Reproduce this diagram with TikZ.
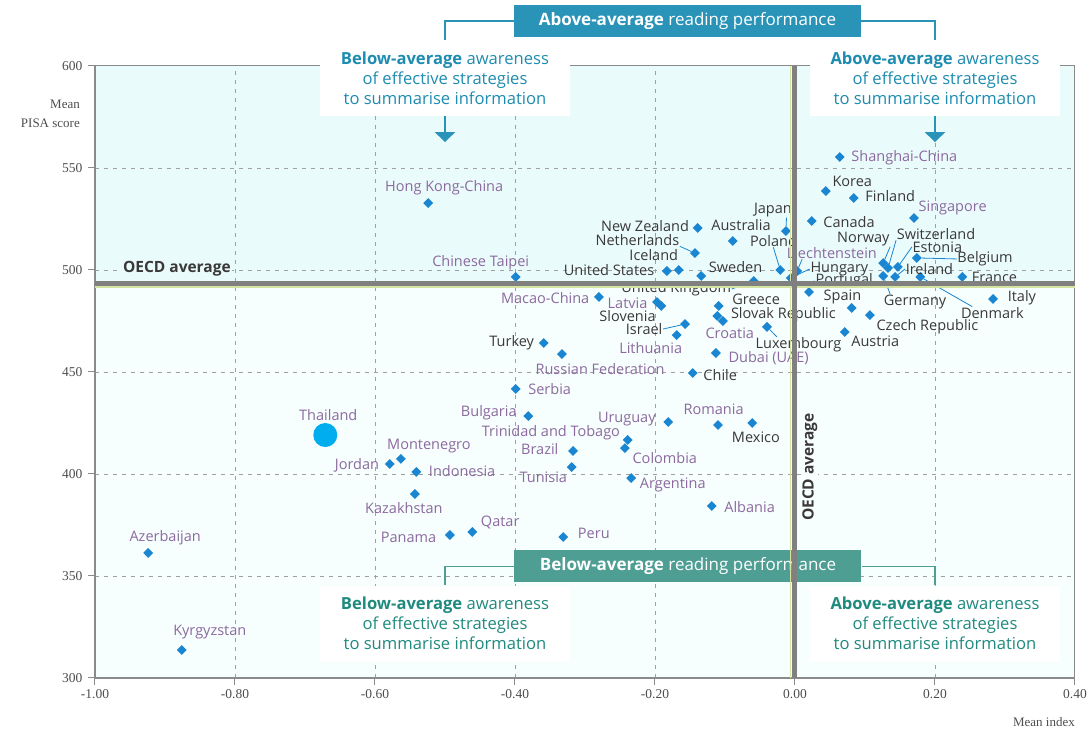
\documentclass[tikz,border=0pt]{standalone}
\usepackage{fontspec}
\setmainfont{Open Sans}
\newfontfamily\numfont{Liberation Serif}
\usetikzlibrary{shapes.geometric}
\usetikzlibrary{arrows.meta}

\definecolor{dotblue}{HTML}{1A85D0}
\definecolor{thaicyan}{HTML}{00AEEF}
\definecolor{oecdtxt}{HTML}{3B3838}
\definecolor{parttxt}{HTML}{8C6A9E}
\definecolor{topblue}{HTML}{2A94B8}
\definecolor{botgreen}{HTML}{4E9E94}
\definecolor{bluetxt}{HTML}{1E8CB0}
\definecolor{greentxt}{HTML}{1F8A7E}
\definecolor{bgtop}{HTML}{EAFBFC}
\definecolor{bgbot}{HTML}{F6FEFE}
\definecolor{gridgray}{HTML}{A0A0A0}
\definecolor{axisgray}{HTML}{8A8A8A}
\definecolor{avggray}{HTML}{808080}
\definecolor{avggreen}{HTML}{D5E3A0}
\definecolor{ticktxt}{HTML}{4D4D4D}

\begin{document}
\begin{tikzpicture}[x=700pt, y=2.04pt]
		\tikzset{dia/.style={diamond, fill=dotblue, inner sep=0pt, minimum size=10pt}}
		\tikzset{oecd/.style={text=oecdtxt, inner sep=0.5pt, font=\fontsize{14.5}{16}\selectfont}}
		\tikzset{part/.style={oecd, text=parttxt}}
		\tikzset{lead/.style={dotblue, line width=0.8pt}}
		\tikzset{grid/.style={gridgray, line width=0.8pt, dash pattern=on 4pt off 5pt}}
		\tikzset{qbox/.style={fill=white, align=center, minimum width=250pt, minimum height=76pt, inner sep=0pt, font=\fontsize{16.6}{20}\selectfont}}
		\tikzset{band/.style={text=white, minimum width=347pt, minimum height=32pt, inner sep=0pt, font=\fontsize{17}{18}\selectfont}}
		\tikzset{qarrow/.style={line width=2.5pt, -{Triangle[width=20pt, length=10pt]}}}
		\tikzset{avglabel/.style={text=oecdtxt, inner sep=1pt, font=\bfseries\fontsize{15.5}{17}\selectfont}}
		\useasboundingbox (-1.135714,273.039) rectangle (0.424286,632.353);
		%plot area
		\fill[bgtop] (-1,493.5) rectangle (0.4,600);
		\fill[bgbot] (-1,300) rectangle (0.4,493.5);
		\foreach \x in {-0.8,-0.6,-0.4,-0.2,0.2}
			\draw[grid] (\x,300) -- (\x,600);
		\foreach \y in {350,400,450,500,550}
			\draw[grid] (-1,\y) -- (0.4,\y);
		\draw[axisgray, line width=1pt] (-1,600) -- (0.4,600) -- (0.4,300);
		\draw[axisgray, line width=1.6pt] (-1,600) -- (-1,300) -- (0.4,300);
		%axes
		\foreach \y in {300,350,...,600}
			\draw[axisgray, line width=1pt] (-1,\y) -- ++(-7pt,0) node[left=5pt, text=ticktxt, inner sep=0pt, font=\numfont\fontsize{13.5}{15}\selectfont] {\y};
		\foreach \x/\t in {-1/-1.00, -0.8/-0.80, -0.6/-0.60, -0.4/-0.40, -0.2/-0.20, 0/0.00, 0.2/0.20, 0.4/0.40}
			\draw[axisgray, line width=1pt] (\x,300) -- ++(0,-7pt) node[below=4pt, text=ticktxt, inner sep=0pt, font=\numfont\fontsize{13.5}{15}\selectfont] {\t};
		\node[anchor=east, align=right, text=ticktxt, inner sep=0pt, font=\numfont\fontsize{13}{19}\selectfont] (ylab) at (-1.0214,576.5) {Mean\\PISA score};
		\node[anchor=east, text=ticktxt, inner sep=0pt, font=\numfont\fontsize{13}{15}\selectfont] (xlab) at (0.4,278.4) {Mean index};
		%quadrant notes
		\node[band, fill=topblue] (topb) at (-0.1536,622.06) {\textbf{Above-average} reading performance};
		\node[qbox, text=bluetxt] (tlq) at (-0.5,594.1) {\textbf{Below-average} awareness\\of effective strategies\\to summarise information};
		\node[qbox, text=bluetxt] (trq) at (0.2,594.1) {\textbf{Above-average} awareness\\of effective strategies\\to summarise information};
		\draw[topblue, line width=1.5pt] (topb.west) -| (tlq.north);
		\draw[topblue, line width=1.5pt] (topb.east) -| (trq.north);
		\coordinate (tla) at (-0.5,562.7);
		\coordinate (tra) at (0.2,562.7);
		\draw[qarrow, topblue] (tlq.south) -- (tla);
		\draw[qarrow, topblue] (trq.south) -- (tra);
		\node[band, fill=botgreen] (botb) at (-0.1529,354.66) {\textbf{Below-average} reading performance};
		\node[qbox, text=greentxt] (blq) at (-0.5,326.7) {\textbf{Below-average} awareness\\of effective strategies\\to summarise information};
		\node[qbox, text=greentxt] (brq) at (0.2,326.7) {\textbf{Above-average} awareness\\of effective strategies\\to summarise information};
		\draw[botgreen, line width=1.5pt] (botb.west) -| (blq.north);
		\draw[botgreen, line width=1.5pt] (botb.east) -| (brq.north);
		%countries
		\node[dia] (sha) at (0.064,555.4) {};
		\node[part, anchor=west, xshift=11pt, yshift=-1pt] at (sha) {Shanghai-China};
		\node[dia] (kor) at (0.044,538.7) {};
		\node[oecd, anchor=west, xshift=6pt, yshift=10pt] at (kor) {Korea};
		\node[dia] (fin) at (0.084,535.3) {};
		\node[oecd, anchor=west, xshift=11pt, yshift=2pt] at (fin) {Finland};
		\node[dia] (sgp) at (0.170,525.5) {};
		\node[part, anchor=west, xshift=4pt, yshift=10pt] at (sgp) {Singapore};
		\node[dia] (can) at (0.024,524.0) {};
		\node[oecd, anchor=west, xshift=11pt, yshift=-1pt] at (can) {Canada};
		\node[dia] (jpn) at (-0.013,519.1) {};
		\node[oecd, xshift=-13pt, yshift=21pt] (jpnl) at (jpn) {Japan};
		\node[dia] (nzl) at (-0.139,520.6) {};
		\node[oecd, anchor=east, xshift=-8pt, yshift=2pt] at (nzl) {New Zealand};
		\node[dia] (aus) at (-0.089,514.2) {};
		\node[oecd, anchor=west, xshift=-22pt, yshift=16pt] at (aus) {Australia};
		\node[dia] (nld) at (-0.143,508.3) {};
		\node[oecd, anchor=east, xshift=-15pt, yshift=13pt] (nldl) at (nld) {Netherlands};
		\node[dia] (usa) at (-0.183,499.5) {};
		\node[oecd, anchor=east, xshift=-12pt, yshift=1pt] at (usa) {United States};
		\node[dia] (isl) at (-0.166,500.0) {};
		\node[oecd, anchor=east, yshift=15pt] at (isl) {Iceland};
		\node[dia] (swe) at (-0.134,497.1) {};
		\node[oecd, anchor=west, xshift=7pt, yshift=9pt] at (swe) {Sweden};
		\node[dia] (pol) at (-0.021,500.0) {};
		\node[oecd, anchor=west, xshift=-31pt, yshift=29pt] (poll) at (pol) {Poland};
		\node[dia] (gbr) at (-0.059,494.6) {};
		\node[oecd, anchor=east, xshift=-22pt, yshift=-8pt] (gbrl) at (gbr) {United Kingdom};
		\node[dia] (lie) at (0.003,499.5) {};
		\node[part, anchor=west, xshift=-11pt, yshift=18pt] (liel) at (lie) {Liechtenstein};
		\node[dia] (hun) at (-0.006,496.1) {};
		\node[oecd, anchor=west, xshift=19pt, yshift=9pt] (hunl) at (hun) {Hungary};
		\node[dia] (prt) at (0.000,492.6) {};
		\node[oecd, anchor=west, xshift=20pt, yshift=4pt] (prtl) at (prt) {Portugal};
		\node[dia] (grc) at (-0.109,482.4) {};
		\node[oecd, anchor=west, xshift=13pt, yshift=7pt] at (grc) {Greece};
		\node[dia] (svk) at (-0.111,477.5) {};
		\node[oecd, anchor=west, xshift=13pt, yshift=1pt] at (svk) {Slovak Republic};
		\node[dia] (hrv) at (-0.103,475.0) {};
		\node[part, anchor=west, xshift=-18pt, yshift=-12pt] at (hrv) {Croatia};
		\node[dia] (lux) at (-0.040,472.1) {};
		\node[oecd, anchor=west, xshift=-12pt, yshift=-18pt] (luxl) at (lux) {Luxembourg};
		\node[dia] (dub) at (-0.113,459.3) {};
		\node[part, anchor=west, xshift=12pt, yshift=-5pt] at (dub) {Dubai (UAE)};
		\node[dia] (chl) at (-0.146,449.5) {};
		\node[oecd, anchor=west, xshift=10pt, yshift=-2pt] at (chl) {Chile};
		\node[dia] (lva) at (-0.197,484.3) {};
		\node[part, anchor=east, xshift=-9pt, yshift=-1pt] at (lva) {Latvia};
		\node[dia] (svn) at (-0.191,482.4) {};
		\node[oecd, anchor=east, xshift=-5pt, yshift=-10pt] at (svn) {Slovenia};
		\node[dia] (isr) at (-0.157,473.5) {};
		\node[oecd, anchor=east, xshift=-22pt, yshift=-5pt] (isrl) at (isr) {Israel};
		\node[dia] (ltu) at (-0.169,468.1) {};
		\node[part, xshift=-26pt, yshift=-13pt] at (ltu) {Lithuania};
		\node[dia] (mac) at (-0.280,486.8) {};
		\node[part, anchor=east, xshift=-9pt, yshift=-1pt] at (mac) {Macao-China};
		\node[dia] (tap) at (-0.399,496.6) {};
		\node[part, xshift=-35pt, yshift=14pt] at (tap) {Chinese Taipei};
		\node[dia] (tur) at (-0.359,464.2) {};
		\node[oecd, anchor=east, xshift=-9pt] at (tur) {Turkey};
		\node[dia] (rus) at (-0.333,458.8) {};
		\node[part, anchor=west, xshift=-27pt, yshift=-15pt] at (rus) {Russian Federation};
		\node[dia] (hkg) at (-0.524,532.8) {};
		\node[part, xshift=16pt, yshift=15pt] at (hkg) {Hong Kong-China};
		\node[dia] (srb) at (-0.399,441.7) {};
		\node[part, anchor=west, xshift=12pt] at (srb) {Serbia};
		\node[dia] (bgr) at (-0.381,428.4) {};
		\node[part, anchor=east, xshift=-11pt, yshift=3pt] at (bgr) {Bulgaria};
		\node[dia] (ury) at (-0.181,425.5) {};
		\node[part, anchor=east, xshift=-12pt, yshift=3pt] at (ury) {Uruguay};
		\node[dia] (rou) at (-0.110,424.0) {};
		\node[part, anchor=west, xshift=-35pt, yshift=16pt] at (rou) {Romania};
		\node[dia] (mex) at (-0.061,425.0) {};
		\node[oecd, anchor=west, xshift=-21pt, yshift=-14pt] at (mex) {Mexico};
		\node[dia] (tto) at (-0.239,416.7) {};
		\node[part, anchor=east, xshift=-7pt, yshift=7pt] at (tto) {Trinidad and Tobago};
		\node[dia] (col) at (-0.243,412.7) {};
		\node[part, anchor=west, xshift=7pt, yshift=-10pt] at (col) {Colombia};
		\node[dia] (bra) at (-0.317,411.3) {};
		\node[part, anchor=east, xshift=-14pt, yshift=2pt] at (bra) {Brazil};
		\node[dia] (tun) at (-0.319,403.4) {};
		\node[part, anchor=east, xshift=-4pt, yshift=-10pt] at (tun) {Tunisia};
		\node[dia] (arg) at (-0.234,398.0) {};
		\node[part, anchor=west, xshift=8pt, yshift=-7pt] at (arg) {Argentina};
		\node[dia] (alb) at (-0.119,384.3) {};
		\node[part, anchor=west, xshift=12pt, yshift=-1pt] at (alb) {Albania};
		\node[dia] (per) at (-0.331,369.1) {};
		\node[part, anchor=west, xshift=14pt, yshift=4pt] at (per) {Peru};
		\node[dia] (qat) at (-0.461,371.6) {};
		\node[part, anchor=west, xshift=8pt, yshift=9pt] at (qat) {Qatar};
		\node[dia] (pan) at (-0.493,370.1) {};
		\node[part, anchor=east, xshift=-13pt, yshift=-2pt] at (pan) {Panama};
		\node[dia] (idn) at (-0.541,401.0) {};
		\node[part, anchor=west, xshift=12pt, yshift=1pt] at (idn) {Indonesia};
		\node[dia] (jor) at (-0.579,404.9) {};
		\node[part, anchor=east, xshift=-10pt, yshift=-1pt] at (jor) {Jordan};
		\node[dia] (mne) at (-0.563,407.4) {};
		\node[part, xshift=28pt, yshift=13pt] at (mne) {Montenegro};
		\node[dia] (kaz) at (-0.543,390.2) {};
		\node[part, xshift=-11pt, yshift=-14pt] at (kaz) {Kazakhstan};
		\node[dia] (aze) at (-0.924,361.3) {};
		\node[part, xshift=17pt, yshift=15pt] at (aze) {Azerbaijan};
		\node[dia] (kgz) at (-0.876,313.7) {};
		\node[part, xshift=28pt, yshift=18pt] at (kgz) {Kyrgyzstan};
		\node[circle, fill=thaicyan, inner sep=0pt, minimum size=24pt] (tha) at (-0.671,419.1) {};
		\node[part, xshift=3pt, yshift=20pt] at (tha) {Thailand};
		\node[dia] (esp) at (0.020,489.2) {};
		\node[oecd, anchor=west, xshift=14pt, yshift=-5pt] at (esp) {Spain};
		\node[dia] (p81) at (0.081,481.4) {};
		\node[dia] (cze) at (0.107,477.9) {};
		\node[oecd, anchor=west, xshift=6pt, yshift=-12pt] at (cze) {Czech Republic};
		\node[dia] (aut) at (0.071,469.6) {};
		\node[oecd, anchor=west, xshift=6pt, yshift=-9pt] at (aut) {Austria};
		\node[dia] (ita) at (0.283,485.8) {};
		\node[oecd, anchor=west, xshift=14pt, yshift=1pt] at (ita) {Italy};
		\node[dia] (dnk) at (0.179,496.6) {};
		\node[oecd, anchor=west, xshift=40pt, yshift=-36pt] (dnkl) at (dnk) {Denmark};
		\node[dia] (fra) at (0.239,496.6) {};
		\node[oecd, anchor=west, xshift=9pt] at (fra) {France};
		\node[dia] (bel) at (0.174,505.9) {};
		\node[oecd, anchor=west, xshift=40pt, yshift=-1pt] (bell) at (bel) {Belgium};
		\node[dia] (nor) at (0.126,503.4) {};
		\node[oecd, anchor=east, xshift=7pt, yshift=24pt] (norl) at (nor) {Norway};
		\node[dia] (che) at (0.133,501.0) {};
		\node[oecd, anchor=west, xshift=8pt, yshift=34pt] (chel) at (che) {Switzerland};
		\node[dia] (est) at (0.147,501.5) {};
		\node[oecd, anchor=west, xshift=14pt, yshift=20pt] (estl) at (est) {Estonia};
		\node[dia] (deu) at (0.126,497.1) {};
		\node[oecd, anchor=west, yshift=-26pt] (deul) at (deu) {Germany};
		\node[dia] (irl) at (0.143,496.6) {};
		\node[oecd, anchor=west, xshift=10pt, yshift=8pt] (irll) at (irl) {Ireland};
		%leaders
		\draw[lead] ([xshift=-6pt]jpnl.south east) -- (jpn);
		\draw[lead] (nldl.south east) -- (nld);
		\draw[lead] ([xshift=24pt]poll.south west) -- (pol);
		\draw[lead] (gbrl.east) -- (gbr);
		\draw[lead] ([xshift=16pt]liel.south west) -- (lie);
		\draw[lead] (hunl.west) -- (hun);
		\draw[lead] (prtl.west) -- (prt);
		\draw[lead] (isrl.east) -- (isr);
		\draw[lead] ([xshift=22pt]luxl.north west) -- (lux);
		\draw[lead] ([xshift=12pt]dnkl.north west) -- (dnk);
		\draw[lead] (bell.west) -- (bel);
		\draw[lead] (norl.south east) -- (nor);
		\draw[lead] (chel.south west) -- (che);
		\draw[lead] (estl.west) -- (est);
		\draw[lead] ([xshift=7pt]deul.north west) -- (deu);
		\draw[lead] (irll.west) -- (irl);
		%OECD averages
		\draw[avggreen, line width=1.2pt] (-1,491.7) -- (0.4,491.7);
		\draw[avggreen, line width=1.2pt] (-0.0063,300) -- (-0.0063,600);
		\draw[avggray, line width=5pt] (-1,493.5) -- (0.4,493.5);
		\draw[avggray, line width=5pt] (-0.0014,300) -- (-0.0014,600);
		\node[avglabel, fill=bgtop] (havg) at (-0.883,500.5) {OECD average};
		\node[avglabel, fill=bgbot, rotate=90] (vavg) at (0.0214,403.4) {OECD average};
\end{tikzpicture}
\end{document}
